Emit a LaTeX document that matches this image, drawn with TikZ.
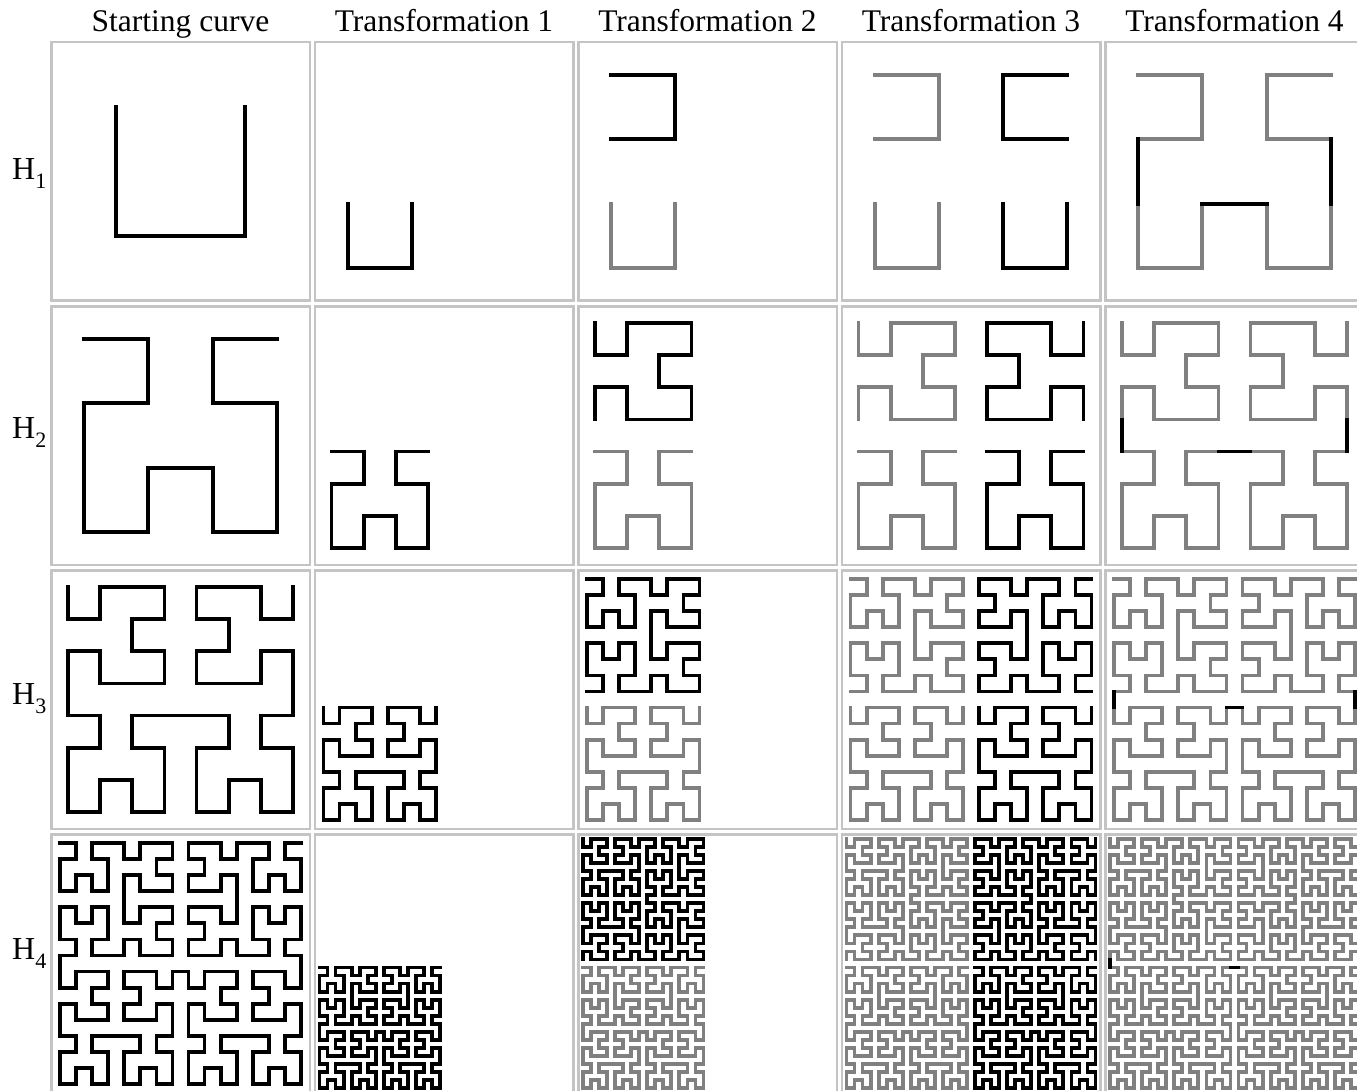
\documentclass[tikz,border=0pt]{standalone}
\usepackage{fontspec}
\setmainfont{Liberation Serif}
\usetikzlibrary{positioning}
\definecolor{cellrule}{HTML}{C4C4C4}
\definecolor{oldpart}{HTML}{808080}

% the four quarters of a unit square (y pointing down)
\tikzset{
  quad tl/.style={scale=0.5, cm={0,1,1,0,(0,0)}},
  quad bl/.style={shift={(0,0.5)}, scale=0.5},
  quad br/.style={shift={(0.5,0.5)}, scale=0.5},
  quad tr/.style={shift={(1,0)}, xscale=-1, scale=0.5, cm={0,1,1,0,(0,0)}}
}

% the three short segments that join the quarters of order #1
\newcommand\hjoins[1]{%
  \pgfmathsetmacro\hgap{1/2^(#1+1)}%
  \draw (\hgap,0.5-\hgap) -- (\hgap,0.5+\hgap)
        (0.5-\hgap,0.5+\hgap) -- (0.5+\hgap,0.5+\hgap)
        (1-\hgap,0.5+\hgap) -- (1-\hgap,0.5-\hgap);}

\newcommand\hcopy[2]{\begin{scope}[#1]\hilbert{#2}\end{scope}}

\newcommand\hilbert[1]{%
  \ifnum#1>0
    \hjoins{#1}%
    \edef\hlow{\number\numexpr#1-1\relax}%
    \hcopy{quad tl}{\hlow}\hcopy{quad bl}{\hlow}%
    \hcopy{quad br}{\hlow}\hcopy{quad tr}{\hlow}%
  \fi}

\begin{document}
\begin{tikzpicture}[x=1pt, y=1pt, yscale=-1,
    frame/.style={draw=cellrule, line width=2.5pt},
    cell/.style 2 args={shift={(#1+2,#2+2)}, scale=257, line width=3.8pt, line cap=rect},
    head/.style={font=\fontsize{31.5}{36}\selectfont, anchor=base, inner sep=0pt},
    rowlab/.style={font=\fontsize{32}{36}\selectfont, anchor=base west, inner sep=0pt}
]
\useasboundingbox (0,0) rectangle (1357,1091);
\clip (0,0) rectangle (1357,1091);

% column heads
\foreach \t [count=\c from 0] in {Starting curve, Transformation 1, Transformation 2, Transformation 3, Transformation 4}
  \node[head] (head\c) at (180.5+263.5*\c, 32) {\t};

\foreach \n/\laby in {1/180, 2/438, 3/704, 4/959}{
  \pgfmathsetmacro\rowy{41+264*(\n-1)}
  \node[rowlab] (lab\n) at (12,\laby) {H\raisebox{-9pt}{\fontsize{22}{24}\selectfont\n}};
  \foreach \c in {0,...,4}
    \draw[frame] (50+263.5*\c+1.25, \rowy+1.25) rectangle ++(258.5,258.5);
  % starting curve
  \begin{scope}[cell={50}{\rowy}]
    \hilbert{\n}
  \end{scope}
  % transformation 1
  \begin{scope}[cell={313.5}{\rowy}]
    \hcopy{quad bl}{\n}
  \end{scope}
  % transformation 2
  \begin{scope}[cell={577}{\rowy}]
    \hcopy{quad bl, oldpart}{\n}
    \hcopy{quad tl}{\n}
  \end{scope}
  % transformation 3
  \begin{scope}[cell={840.5}{\rowy}]
    \hcopy{quad tl, oldpart}{\n}
    \hcopy{quad bl, oldpart}{\n}
    \hcopy{quad br}{\n}
    \hcopy{quad tr}{\n}
  \end{scope}
  % transformation 4
  \begin{scope}[cell={1104}{\rowy}]
    \begin{scope}[oldpart]
      \hcopy{quad tl}{\n}\hcopy{quad bl}{\n}
      \hcopy{quad br}{\n}\hcopy{quad tr}{\n}
    \end{scope}
    \hjoins{\n+1}
  \end{scope}
}
\end{tikzpicture}
\end{document}
